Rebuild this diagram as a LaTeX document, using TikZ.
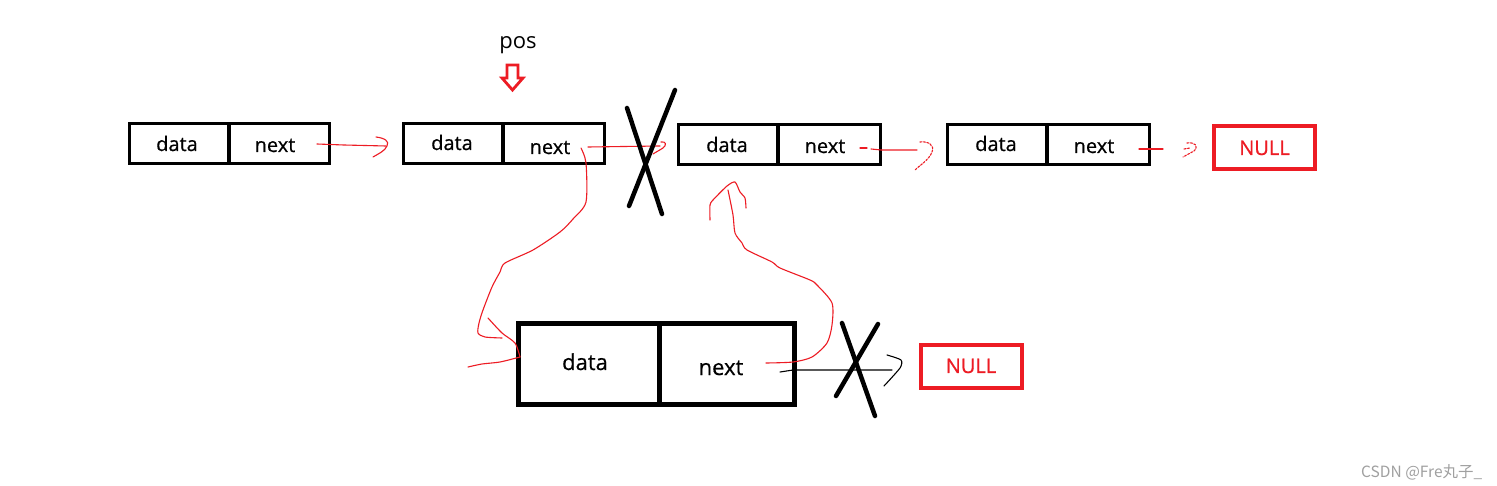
\documentclass[tikz,border=0pt]{standalone}
\usepackage{fontspec}
\setmainfont{Open Sans}
\newfontfamily\lblfont[FakeBold=0.6]{Open Sans}
\newfontfamily\cjkfont{Noto Sans CJK SC}
\definecolor{pred}{RGB}{237,28,36}
\definecolor{wmgray}{RGB}{160,160,160}
\tikzset{
  cell/.style={draw=black, line width=3.4pt, minimum height=40pt, inner sep=0pt},
  bigcell/.style={draw=black, line width=5pt, minimum height=81pt, inner sep=0pt},
  nullbox/.style={draw=pred, line width=4pt, minimum width=101pt, minimum height=43pt, inner sep=0pt},
  lbl/.style={font=\lblfont\fontsize{20}{24}\selectfont, anchor=base, inner sep=0pt},
  biglbl/.style={font=\lblfont\fontsize{22}{26}\selectfont, anchor=base, inner sep=0pt},
  nulllbl/.style={font=\lblfont\fontsize{20}{24}\selectfont, text=pred, anchor=base, inner sep=0pt},
  redpen/.style={draw=pred, line width=1.1pt, line cap=round, line join=round},
  blackpen/.style={draw=black, line width=1.1pt, line cap=round, line join=round},
  cross/.style={draw=black, line width=4.5pt, line cap=round},
  dotpen/.style={redpen, dash pattern=on 2pt off 1.5pt},
}
\begin{document}
\begin{tikzpicture}[x=1pt,y=-1pt]
\useasboundingbox[fill=white] (0,0) rectangle (1497,486);

% ---- top row ----
\node[cell, minimum width=99.5pt] (d1) at (179.25,143.5) {};
\node[cell, minimum width=100.5pt] (n1) at (279.25,143.5) {};
\node[cell, minimum width=99.5pt] (d2) at (453.25,143.75) {};
\node[cell, minimum width=101.5pt] (n2) at (553.75,143.75) {};
\node[cell, minimum width=99.5pt] (d3) at (728.25,144.5) {};
\node[cell, minimum width=102.5pt] (n3) at (829.25,144.5) {};
\node[cell, minimum width=99.5pt] (d4) at (997.25,144.5) {};
\node[cell, minimum width=102.5pt] (n4) at (1098.25,144.5) {};
\node[nullbox] (null1) at (1264.5,147.5) {};

\node[lbl] (td1) at (177,151) {data};
\node[lbl] (tn1) at (275,152) {next};
\node[lbl] (td2) at (452,150) {data};
\node[lbl] (tn2) at (550,154) {next};
\node[lbl] (td3) at (727,152) {data};
\node[lbl] (tn3) at (825,153) {next};
\node[lbl] (td4) at (996,151) {data};
\node[lbl] (tn4) at (1094,153) {next};
\node[nulllbl] (tnull1) at (1264.5,155) {NULL};

% pos label and hollow arrow
\node[font=\fontsize{22}{26}\selectfont, anchor=base, inner sep=0pt] (pos) at (518,49) {pos};
\draw[draw=pred, line width=2.8pt, line join=miter] (507,65) -- (518,65) -- (518,78) -- (523,78) -- (512.5,90) -- (502,78) -- (507,78) -- cycle;

% ---- bottom node ----
\node[bigcell, minimum width=141pt] (bd) at (588.5,364) {};
\node[bigcell, minimum width=135.5pt] (bn) at (726.75,364) {};
\node[biglbl] (tbd) at (585,370) {data};
\node[biglbl] (tbn) at (721,375) {next};
\node[nullbox, minimum height=43pt] (null2) at (971.5,366.5) {};
\node[nulllbl] (tnull2) at (971,373) {NULL};

% ---- connectors ----
% box1 -> box2
\coordinate (a1s) at (317,144);
\coordinate (a1e) at (386,146);
\draw[redpen] (a1s) -- (344,145) -- (a1e);
\draw[redpen] (376,137) .. controls (384,138) and (390,141) .. (387,146) .. controls (385,151) and (378,154) .. (373,157);

% box2 -> box3 (broken)
\coordinate (a2s) at (588,147);
\coordinate (a2e) at (660,146);
\draw[redpen] (a2s) -- (a2e);
\draw[redpen] (661,142) .. controls (666,141) and (667,145) .. (663,148) .. controls (660,150) and (656,152) .. (653,154);

% box3 -> box4
\coordinate (a3s) at (860,148);
\coordinate (a3e) at (917,150);
\draw[redpen] (a3s) -- (867,148);
\draw[redpen] (871,149) -- (881,150) -- (a3e);
\draw[dotpen] (920,142) .. controls (928,141) and (935,145) .. (932,152) .. controls (929,160) and (920,165) .. (915,170);

% box4 -> NULL
\coordinate (a4s) at (1139,149);
\coordinate (a4e) at (1163,149);
\draw[redpen] (a4s) -- (a4e);
\draw[dotpen] (1187,143) .. controls (1195,142) and (1199,146) .. (1194,151) -- (1183,157);
\draw[dotpen] (1184,149) -- (1190,148);

% box2 next -> new node data
\draw[redpen] plot[smooth, tension=0.45] coordinates {(581,148) (586,163) (586,202) (573,219) (560,232) (533,250) (505,263) (500,272) (492,287) (483,310) (479,323) (478,333) (485,337) (502,338)};
\draw[redpen] plot[smooth, tension=0.45] coordinates {(488,318) (502,333) (515,343) (520,357)};
\draw[redpen] plot[smooth, tension=0.45] coordinates {(468,367) (482,364) (500,362) (520,357)};

% new node next -> box3 data
\draw[redpen] plot[smooth, tension=0.45] coordinates {(766,363) (793,362) (812,357) (827,343) (832,325) (832,303) (817,285) (810,280) (780,268) (772,262) (747,250) (742,243) (735,233) (733,215) (728,190)};
\draw[redpen] plot[smooth, tension=0.4] coordinates {(710,220) (710,205) (713,200) (727,186) (735,182) (740,192) (745,198) (746,208)};

% new node next -> NULL (crossed)
\coordinate (a5s) at (780,372);
\coordinate (a5e) at (892,370);
\draw[blackpen] (a5s) -- (793,370) -- (a5e);
\draw[blackpen] plot[smooth, tension=0.4] coordinates {(887,355) (901,360) (900,368) (884,386)};

% crosses
\draw[cross] (627,108) -- (662,214);
\draw[cross] (675,90) -- (629,206);
\draw[cross] (842,323) -- (875,416);
\draw[cross] (878,324) -- (836,396);

% watermark
\node[font=\cjkfont\fontsize{15.5}{18}\selectfont, text=wmgray, anchor=base west, inner sep=0pt] (wm) at (1361,477) {CSDN @Fre丸子\_};
\end{tikzpicture}
\end{document}
